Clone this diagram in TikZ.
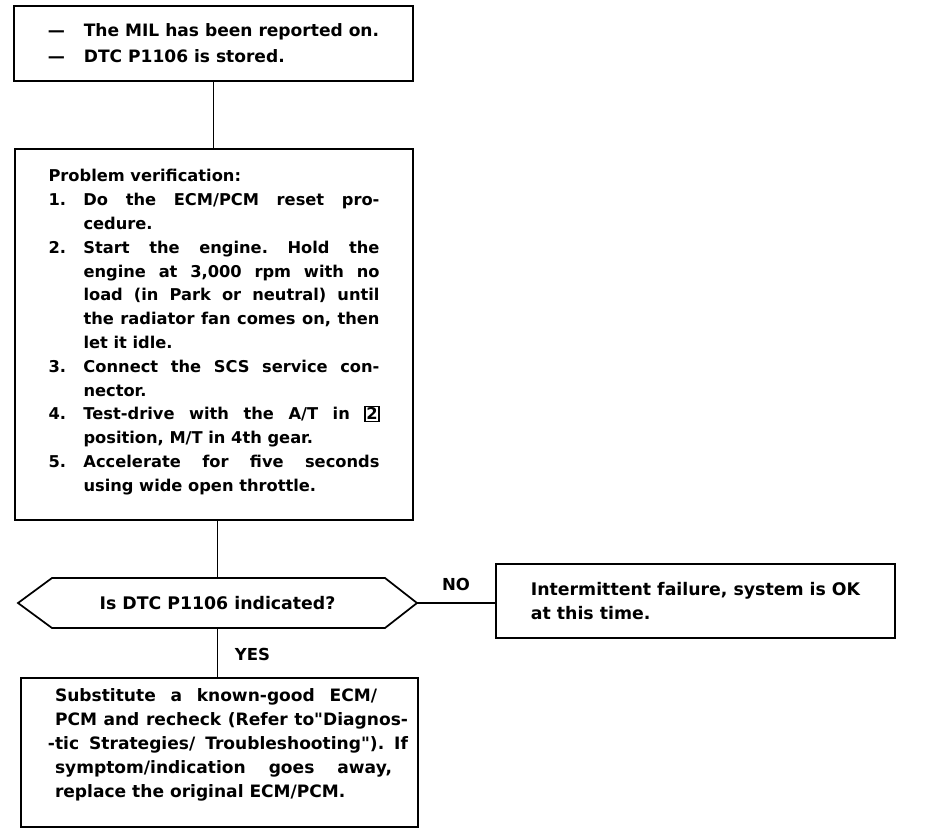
\documentclass[tikz,border=0pt]{standalone}
\usepackage{fontspec}
\setmainfont{DejaVu Sans}
\setlength{\fboxsep}{0.6pt}
\setlength{\fboxrule}{0.8pt}
\hbadness=10000
\hfuzz=20pt
\tolerance=10000
\frenchspacing
% numbered step with hanging text
\newcommand{\itm}[1]{\noindent\hangindent=26.25pt\hangafter=1\makebox[26.25pt][l]{#1}}

\begin{document}
\begin{tikzpicture}[
    x=0.75pt, y=-0.75pt,
    box/.style={draw, line width=1.3pt, inner sep=0pt, outer sep=0pt},
    edge/.style={line width=1.3pt},
    big/.style={font=\fontsize{12.8pt}{19.5pt}\selectfont\bfseries},
    mid/.style={font=\fontsize{12.2pt}{17.85pt}\selectfont\bfseries},
    txt/.style={font=\fontsize{13pt}{18pt}\selectfont\bfseries},
    lab/.style={font=\fontsize{12.4pt}{15pt}\selectfont\bfseries, inner sep=0pt},
]
\useasboundingbox (0,0) rectangle (928,836);

% start condition
\node[box, big, align=left, minimum width=299.25pt, minimum height=56.25pt] (mil) at (213.5,43.5)
    {\makebox[27pt][l]{—}The MIL has been reported on.\\
     \makebox[27pt][l]{—}DTC P1106 is stored.};

% verification steps
\node[box, mid, minimum width=298.5pt, minimum height=278.25pt] (verify) at (214,334.5)
    {\parbox[c][247.35pt][t]{248.25pt}{\baselineskip=17.85pt
      Problem verification:\par
      \itm{1.}Do the ECM/PCM reset pro-\linebreak cedure.\par
      \itm{2.}Start the engine. Hold the\linebreak engine at 3,000 rpm with no\linebreak
        load (in Park or neutral) until\linebreak the radiator fan comes on, then\linebreak
        let it idle.\par
      \itm{3.}Connect the SCS service con-\linebreak nector.\par
      \itm{4.}Test-drive with the A/T in \fbox{2}\linebreak position, M/T in 4th gear.\par
      \itm{5.}Accelerate for five seconds\linebreak using wide open throttle.\par}};

% the question
\node[txt, inner sep=0pt, outer sep=0pt, minimum width=299.25pt, minimum height=37.5pt] (ask) at (217.5,603)
    {Is DTC P1106 indicated?};
\draw[edge] (ask.west) -- ([xshift=25.5pt]ask.north west) -- ([xshift=-24pt]ask.north east)
    -- (ask.east) -- ([xshift=-24pt]ask.south east) -- ([xshift=25.5pt]ask.south west) -- cycle;

\node[box, txt, align=left, minimum width=299.25pt, minimum height=55.5pt] (intermit) at (695.5,601)
    {Intermittent failure, system is OK\\ at this time.};

\node[box, txt, font=\fontsize{12.8pt}{18pt}\selectfont\bfseries, minimum width=297.75pt, minimum height=111.75pt] (subst) at (219.5,752.5)
    {\hspace*{18pt}\parbox[c][95.25pt][t]{264.75pt}{\baselineskip=18pt
      \makebox[241.5pt][s]{Substitute a known-good ECM/}\\
      \makebox[264.75pt][s]{PCM and recheck (Refer to\textquotedbl Diagnos-}\\
      \hspace*{-5.25pt}\makebox[270pt][s]{-tic Strategies/ Troubleshooting\textquotedbl). If}\\
      \makebox[252.75pt][s]{symptom/indication goes away,}\\
      replace the original ECM/PCM.}};

\node[lab] (no) at (456,584) {NO};
\node[lab] (yes) at (252.5,654) {YES};

% connectors
\draw[edge] (mil.south) -- (mil.south |- verify.north);
\draw[edge] (ask.north |- verify.south) -- (ask.north);
\draw[edge] (ask.east) -- (ask.east -| intermit.west);
\draw[edge] (ask.south) -- (ask.south |- subst.north);
\end{tikzpicture}
\end{document}
